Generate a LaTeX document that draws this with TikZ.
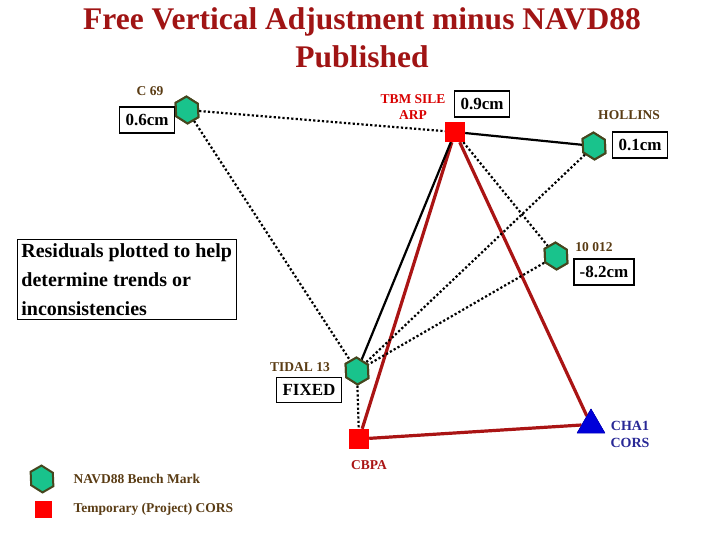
\documentclass[tikz,border=0pt]{standalone}
\usepackage{fontspec}
\setmainfont{Liberation Serif}
\usetikzlibrary{shapes.geometric}
\definecolor{ttl}{RGB}{160,20,20}
\definecolor{brn}{RGB}{90,60,20}
\definecolor{hexg}{RGB}{25,195,140}
\definecolor{hexb}{RGB}{70,70,30}
\definecolor{redl}{RGB}{170,20,20}
\definecolor{bluel}{RGB}{40,40,150}
\tikzset{
  hexm/.style={regular polygon,regular polygon sides=6,rotate=30,minimum size=25pt,yscale=1.1,inner sep=0pt,fill=hexg,draw=hexb,line width=2pt},
  sqm/.style={rectangle,minimum size=20pt,inner sep=0pt,fill=red},
  trim/.style={isosceles triangle,isosceles triangle apex angle=60,shape border rotate=90,minimum size=24pt,inner sep=0pt,fill=blue!85!black,draw=blue!70!black},
  valbox/.style={draw,line width=1.8pt,font=\bfseries\fontsize{17}{19}\selectfont,inner xsep=6pt,inner ysep=7pt},
  lbl/.style={text=brn,font=\bfseries\fontsize{13.5}{16}\selectfont},
  dotl/.style={dash pattern=on 2.2pt off 2.2pt,line width=2.2pt},
  redline/.style={draw=redl,line width=3.2pt},
  blk/.style={line width=2.2pt}
}
\begin{document}
\begin{tikzpicture}[x=1pt,y=-1pt]
\useasboundingbox[fill=white] (0,0) rectangle (720,540);
\node[text=ttl,align=center,font=\bfseries\fontsize{31.5}{38}\selectfont] (title) at (362,38) {Free Vertical Adjustment minus NAVD88\\Published};
\node[hexm] (c69) at (187,110) {};
\node[sqm] (tbm) at (455,132) {};
\node[hexm] (hol) at (594,146) {};
\node[hexm] (t10) at (556,256) {};
\node[hexm] (tid) at (357,371) {};
\node[sqm] (cbpa) at (359,439) {};
\node[trim] (cha) at (591,425) {};
\draw[redline] (tbm) -- (cbpa);
\draw[redline] (tbm) -- (cha);
\draw[redline] (cbpa) -- (cha.west);
\draw[dotl] (c69) -- (tbm);
\draw[dotl] (c69) -- (tid);
\draw[blk] (tbm) -- (hol);
\draw[blk] (tbm) -- (tid);
\draw[dotl] (tbm) -- (t10);
\draw[dotl] (hol) -- (tid);
\draw[dotl] (t10) -- (tid);
\draw[dotl] (tid) -- (cbpa);
\node[hexm] at (c69) {};\node[hexm] at (hol) {};\node[hexm] at (t10) {};\node[hexm] at (tid) {};
\node[sqm] at (tbm) {};\node[sqm] at (cbpa) {};\node[trim] at (cha) {};
\node[lbl] (lc69) at (150,91) {C 69};
\node[valbox] (v69) at (147,120) {0.6cm};
\node[lbl,text=red!85!black,align=center] (ltbm) at (413,107) {TBM SILE\\ARP};
\node[valbox] (vtbm) at (482,104) {0.9cm};
\node[lbl] (lhol) at (629,115) {HOLLINS};
\node[valbox] (vhol) at (640,145) {0.1cm};
\node[lbl] (l10) at (594,247) {10 012};
\node[valbox] (v10) at (604,272) {-8.2cm};
\node[lbl] (ltid) at (300,367) {TIDAL 13};
\node[valbox] (vtid) at (309,390) {FIXED};
\node[lbl,text=redl] (lcb) at (369,465) {CBPA};
\node[lbl,text=bluel,align=center,font=\bfseries\fontsize{14}{17}\selectfont] (lcha) at (630,434) {CHA1\\CORS};
\node[draw,line width=0.8pt,align=left,anchor=north west,inner sep=4pt,font=\bfseries\fontsize{20}{29}\selectfont] (res) at (17,239) {Residuals plotted to help\\determine trends or\\inconsistencies};
\node[hexm] (lgh) at (42,479) {};
\node[lbl,anchor=west] (lgt1) at (70,479) {NAVD88 Bench Mark};
\node[sqm,minimum size=17pt] (lgs) at (43,509) {};
\node[lbl,anchor=west] (lgt2) at (70,509) {Temporary (Project) CORS};
\end{tikzpicture}
\end{document}
